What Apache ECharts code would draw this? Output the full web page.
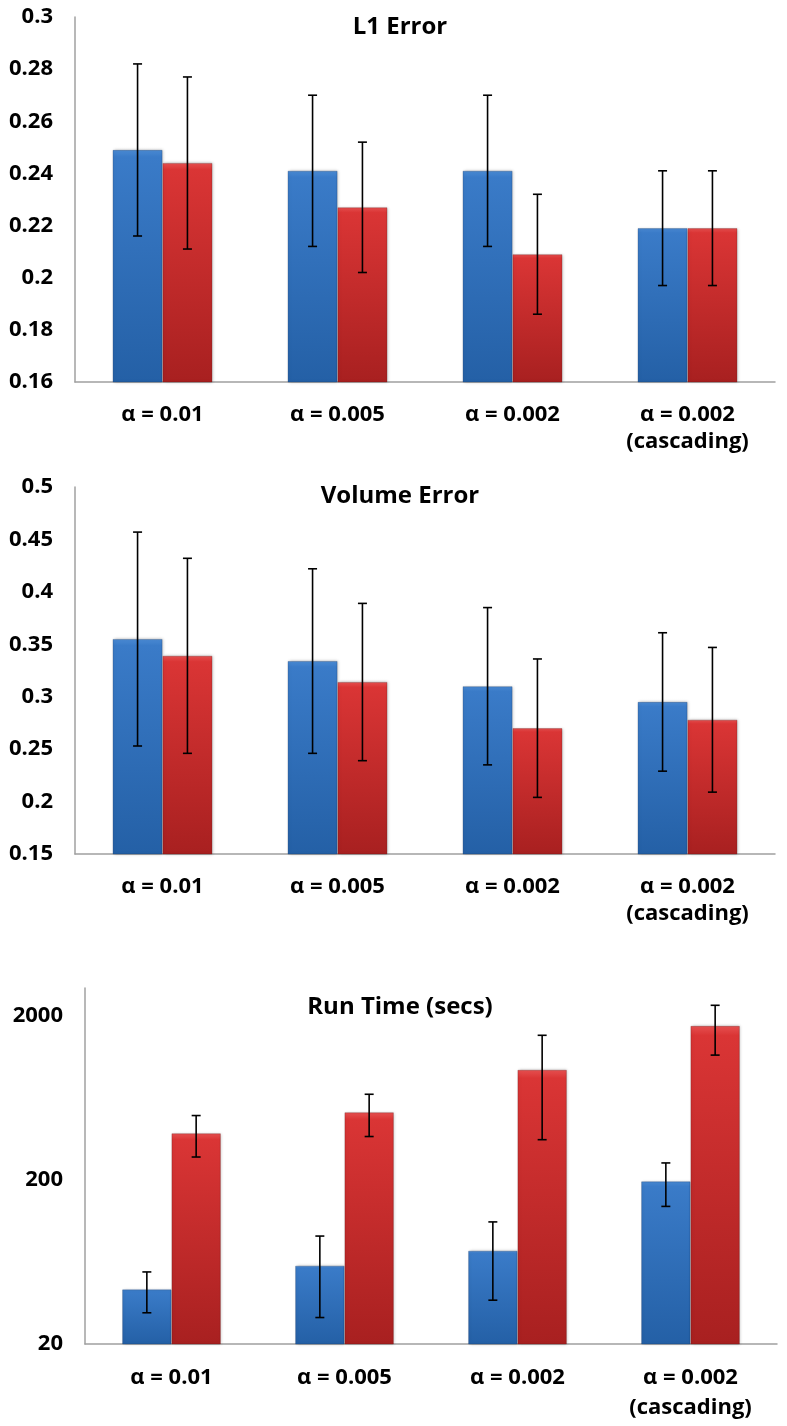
<!DOCTYPE html>
<html>
<head>
<meta charset="utf-8">
<script src="https://cdn.jsdelivr.net/npm/echarts@6/dist/echarts.min.js"></script>
<style>
html,body{margin:0;padding:0;background:#fff;}
#main{width:787px;height:1426px;}
</style>
</head>
<body>
<div id="main"></div>
<script>
// ---- data ----
const categories = ['α = 0.01', 'α = 0.005', 'α = 0.002', 'α = 0.002\n(cascading)'];
const titles = ['L1 Error', 'Volume Error', 'Run Time (secs)'];

const l1Blue = [0.249, 0.241, 0.241, 0.219];
const l1BlueErr = [0.033, 0.029, 0.029, 0.022];
const l1Red = [0.244, 0.227, 0.209, 0.219];
const l1RedErr = [0.033, 0.025, 0.023, 0.022];

const volBlue = [0.355, 0.334, 0.310, 0.295];
const volBlueErr = [0.102, 0.088, 0.075, 0.066];
const volRed = [0.339, 0.314, 0.270, 0.278];
const volRedErr = [0.093, 0.075, 0.066, 0.069];

const timeBlue = [43, 60, 74, 196];
const timeBlueErr = [12, 31, 37, 58];
const timeRed = [385, 517, 938, 1738];
const timeRedErr = [109, 149, 586, 584];

const l1Ticks = {min: 0.16, max: 0.3, interval: 0.02};
const volTicks = {min: 0.15, max: 0.5, interval: 0.05};
const timeTicks = {min: 20, max: 2960};

// ---- styling ----
const FONT = '"Open Sans"';
const GAP = 0.43;
function blueFill() {
  return new echarts.graphic.LinearGradient(0, 0, 0, 1, [
    {offset: 0, color: '#4a8ad3'}, {offset: 0.03, color: '#3a7bc8'}, {offset: 1, color: '#2460a6'}]);
}
function redFill() {
  return new echarts.graphic.LinearGradient(0, 0, 0, 1, [
    {offset: 0, color: '#e65050'}, {offset: 0.03, color: '#da3535'}, {offset: 1, color: '#a82020'}]);
}

const grids = [
  {left: 75, right: 12, top: 17, height: 365},
  {left: 75, right: 12, top: 487, height: 367},
  {left: 85, right: 10, top: 988, height: 356}
];

function errRender(params, api) {
  const x = api.value(0), v = api.value(1), e = api.value(2), side = api.value(3);
  const p0 = api.coord([0, v]);
  const p1 = api.coord([1, v]);
  const band = Math.abs(p1[0] - p0[0]);
  const off = side * band * (1 - GAP) / 4;
  const top = api.coord([x, v + e]);
  const bot = api.coord([x, v - e]);
  const cx = top[0] + off;
  const cap = 4.5;
  const st = {stroke: '#000', lineWidth: 1.6};
  return {type: 'group', children: [
    {type: 'line', shape: {x1: cx, y1: top[1], x2: cx, y2: bot[1]}, style: st},
    {type: 'line', shape: {x1: cx - cap, y1: top[1], x2: cx + cap, y2: top[1]}, style: st},
    {type: 'line', shape: {x1: cx - cap, y1: bot[1], x2: cx + cap, y2: bot[1]}, style: st}
  ]};
}

function errData(vals, errs, side) {
  return vals.map((v, i) => [i, v, errs[i], side]);
}

const sets = [
  [l1Blue, l1BlueErr, l1Red, l1RedErr],
  [volBlue, volBlueErr, volRed, volRedErr],
  [timeBlue, timeBlueErr, timeRed, timeRedErr]
];

const axisLineStyle = {lineStyle: {color: '#a0a0a0', width: 1.5}};
const xAxes = grids.map((g, i) => ({
  type: 'category', gridIndex: i, data: categories,
  axisLine: axisLineStyle, axisTick: {show: false},
  axisLabel: {color: '#000', fontFamily: FONT, fontWeight: 'bold', fontSize: 22,
    lineHeight: i === 2 ? 30 : 27, margin: 19, interval: 0}
}));
const yLabel = {color: '#000', fontFamily: FONT, fontWeight: 'bold', fontSize: 22, margin: 22};
const yAxes = [
  {type: 'value', gridIndex: 0, min: l1Ticks.min, max: l1Ticks.max, interval: l1Ticks.interval,
    axisLine: Object.assign({show: true}, axisLineStyle), axisTick: {show: false}, splitLine: {show: false},
    axisLabel: yLabel},
  {type: 'value', gridIndex: 1, min: volTicks.min, max: volTicks.max, interval: volTicks.interval,
    axisLine: Object.assign({show: true}, axisLineStyle), axisTick: {show: false}, splitLine: {show: false},
    axisLabel: yLabel},
  {type: 'log', logBase: 10, gridIndex: 2, min: timeTicks.min, max: timeTicks.max, interval: 1,
    axisLine: Object.assign({show: true}, axisLineStyle), axisTick: {show: false}, splitLine: {show: false},
    axisLabel: Object.assign({}, yLabel, {showMaxLabel: false,
      formatter: v => String(Number(Number(v).toPrecision(1)))})}
];

const series = [];
sets.forEach((s, i) => {
  series.push({type: 'bar', xAxisIndex: i, yAxisIndex: i, data: s[0], barGap: '0%',
    barCategoryGap: (GAP * 100) + '%',
    itemStyle: {color: blueFill(), borderColor: 'rgba(20,50,100,0.35)', borderWidth: 0.8,
      shadowColor: 'rgba(0,0,0,0.25)', shadowBlur: 3, shadowOffsetX: 1}});
  series.push({type: 'bar', xAxisIndex: i, yAxisIndex: i, data: s[2], barGap: '0%',
    barCategoryGap: (GAP * 100) + '%',
    itemStyle: {color: redFill(), borderColor: 'rgba(100,20,20,0.35)', borderWidth: 0.8,
      shadowColor: 'rgba(0,0,0,0.25)', shadowBlur: 3, shadowOffsetX: 1}});
  series.push({type: 'custom', xAxisIndex: i, yAxisIndex: i, renderItem: errRender,
    data: errData(s[0], s[1], -1), encode: {x: 0, y: 1}, z: 5});
  series.push({type: 'custom', xAxisIndex: i, yAxisIndex: i, renderItem: errRender,
    data: errData(s[2], s[3], 1), encode: {x: 0, y: 1}, z: 5});
});

const titleTops = [10, 479, 990];
const chart = echarts.init(document.getElementById('main'), null, {renderer: 'canvas'});
chart.setOption({
  animation: false,
  backgroundColor: '#fff',
  title: titles.map((t, i) => ({text: t, left: 395, top: titleTops[i], textAlign: 'center',
    textStyle: {fontFamily: FONT, fontWeight: 'bold', fontSize: 24, color: '#000'}})),
  grid: grids,
  xAxis: xAxes,
  yAxis: yAxes,
  series: series
});
</script>
</body>
</html>
